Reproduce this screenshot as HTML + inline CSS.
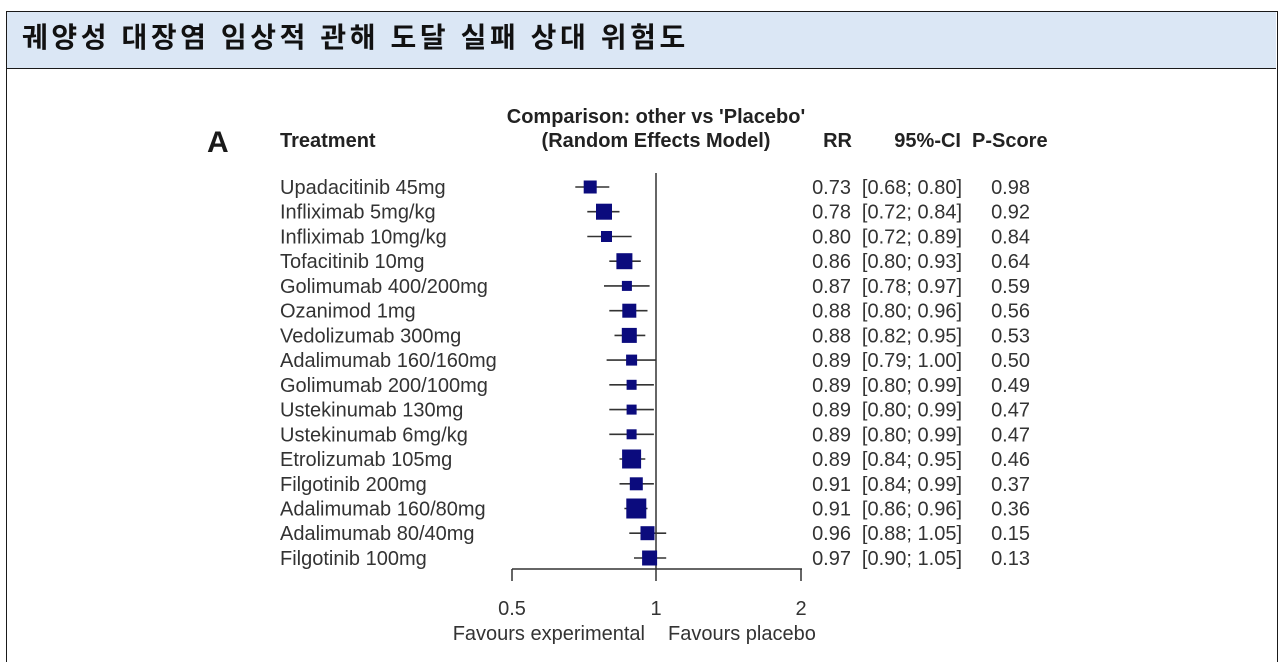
<!DOCTYPE html>
<html>
<head>
<meta charset="utf-8">
<style>
  html, body { margin:0; padding:0; background:#ffffff; width:1280px; height:662px; overflow:hidden; }
  body { position:relative; }
  .box { position:absolute; left:6px; top:11px; width:1272px; height:651px; border:1px solid #1a1a1a; border-bottom:none; box-sizing:border-box; }
  .hdr { position:absolute; left:7px; top:12px; width:1269px; height:56px; background:#dbe7f5; border-bottom:1px solid #1a1a1a; }
  .title { position:absolute; left:22px; top:20px; font-family:"Liberation Sans","Noto Sans CJK KR","NanumGothic",sans-serif; font-weight:bold; font-size:28px; letter-spacing:3.6px; color:#111; line-height:36px; white-space:nowrap; }
  svg { position:absolute; left:0; top:0; }
  svg text { font-family:"Liberation Sans", Arial, sans-serif; }
</style>
</head>
<body>
<div class="box"></div>
<div class="hdr"></div>
<div class="title">궤양성 대장염 임상적 관해 도달 실패 상대 위험도</div>
<svg width="1280" height="662" viewBox="0 0 1280 662" xmlns="http://www.w3.org/2000/svg">
  <!-- headers -->
  <text x="207" y="152" font-size="30" font-weight="bold" fill="#1a1a1a">A</text>
  <text x="280" y="147" font-size="20" font-weight="bold" fill="#222">Treatment</text>
  <text x="656" y="123" font-size="20" font-weight="bold" fill="#222" text-anchor="middle">Comparison: other vs 'Placebo'</text>
  <text x="656" y="147" font-size="20" font-weight="bold" fill="#222" text-anchor="middle">(Random Effects Model)</text>
  <text x="852" y="147" font-size="20" font-weight="bold" fill="#222" text-anchor="end">RR</text>
  <text x="961" y="147" font-size="20" font-weight="bold" fill="#222" text-anchor="end">95%-CI</text>
  <text x="972" y="147" font-size="20" font-weight="bold" fill="#222">P-Score</text>

  <!-- null line -->
  <line x1="656" y1="173" x2="656" y2="581" stroke="#333" stroke-width="1.5"/>
  <!-- axis -->
  <line x1="512" y1="569" x2="802" y2="569" stroke="#333" stroke-width="1.5"/>
  <line x1="512" y1="569" x2="512" y2="581" stroke="#333" stroke-width="1.5"/>
  <line x1="801" y1="569" x2="801" y2="581" stroke="#333" stroke-width="1.5"/>
  <text x="512" y="615" font-size="20" fill="#333" text-anchor="middle">0.5</text>
  <text x="656" y="615" font-size="20" fill="#333" text-anchor="middle">1</text>
  <text x="801" y="615" font-size="20" fill="#333" text-anchor="middle">2</text>
  <text x="645" y="640" font-size="20" fill="#333" text-anchor="end">Favours experimental</text>
  <text x="668" y="640" font-size="20" fill="#333">Favours placebo</text>

  <g stroke="#333" stroke-width="1.6">
    <line x1="575.3" y1="187.0" x2="609.3" y2="187.0"/>
    <line x1="587.3" y1="211.7" x2="619.5" y2="211.7"/>
    <line x1="587.3" y1="236.5" x2="631.6" y2="236.5"/>
    <line x1="609.3" y1="261.2" x2="640.8" y2="261.2"/>
    <line x1="604.0" y1="285.9" x2="649.6" y2="285.9"/>
    <line x1="609.3" y1="310.7" x2="647.5" y2="310.7"/>
    <line x1="614.5" y1="335.4" x2="645.3" y2="335.4"/>
    <line x1="606.6" y1="360.1" x2="656.0" y2="360.1"/>
    <line x1="609.3" y1="384.8" x2="653.9" y2="384.8"/>
    <line x1="609.3" y1="409.6" x2="653.9" y2="409.6"/>
    <line x1="609.3" y1="434.3" x2="653.9" y2="434.3"/>
    <line x1="619.5" y1="459.0" x2="645.3" y2="459.0"/>
    <line x1="619.5" y1="483.8" x2="653.9" y2="483.8"/>
    <line x1="624.4" y1="508.5" x2="647.5" y2="508.5"/>
    <line x1="629.3" y1="533.2" x2="666.2" y2="533.2"/>
    <line x1="634.0" y1="558.0" x2="666.2" y2="558.0"/>
  </g>
  <g fill="#0b0b7d">
    <rect x="583.7" y="180.5" width="13" height="13"/>
    <rect x="596.0" y="203.7" width="16" height="16"/>
    <rect x="601.0" y="231.0" width="11" height="11"/>
    <rect x="616.4" y="253.2" width="16" height="16"/>
    <rect x="621.9" y="280.9" width="10" height="10"/>
    <rect x="622.3" y="303.7" width="14" height="14"/>
    <rect x="621.8" y="327.9" width="15" height="15"/>
    <rect x="626.1" y="354.6" width="11" height="11"/>
    <rect x="626.6" y="379.8" width="10" height="10"/>
    <rect x="626.6" y="404.6" width="10" height="10"/>
    <rect x="626.6" y="429.3" width="10" height="10"/>
    <rect x="622.1" y="449.5" width="19" height="19"/>
    <rect x="629.8" y="477.3" width="13" height="13"/>
    <rect x="626.3" y="498.5" width="20" height="20"/>
    <rect x="640.5" y="526.2" width="14" height="14"/>
    <rect x="642.1" y="550.5" width="15" height="15"/>
  </g>

  <g font-size="20" fill="#333">
    <text x="280" y="194.0">Upadacitinib 45mg</text>
    <text x="280" y="218.7">Infliximab 5mg/kg</text>
    <text x="280" y="243.5">Infliximab 10mg/kg</text>
    <text x="280" y="268.2">Tofacitinib 10mg</text>
    <text x="280" y="292.9">Golimumab 400/200mg</text>
    <text x="280" y="317.7">Ozanimod 1mg</text>
    <text x="280" y="342.4">Vedolizumab 300mg</text>
    <text x="280" y="367.1">Adalimumab 160/160mg</text>
    <text x="280" y="391.8">Golimumab 200/100mg</text>
    <text x="280" y="416.6">Ustekinumab 130mg</text>
    <text x="280" y="441.3">Ustekinumab 6mg/kg</text>
    <text x="280" y="466.0">Etrolizumab 105mg</text>
    <text x="280" y="490.8">Filgotinib 200mg</text>
    <text x="280" y="515.5">Adalimumab 160/80mg</text>
    <text x="280" y="540.2">Adalimumab 80/40mg</text>
    <text x="280" y="565.0">Filgotinib 100mg</text>
  </g>
  <g font-size="20" fill="#333" text-anchor="end">
    <text x="851" y="194.0">0.73</text>
    <text x="851" y="218.7">0.78</text>
    <text x="851" y="243.5">0.80</text>
    <text x="851" y="268.2">0.86</text>
    <text x="851" y="292.9">0.87</text>
    <text x="851" y="317.7">0.88</text>
    <text x="851" y="342.4">0.88</text>
    <text x="851" y="367.1">0.89</text>
    <text x="851" y="391.8">0.89</text>
    <text x="851" y="416.6">0.89</text>
    <text x="851" y="441.3">0.89</text>
    <text x="851" y="466.0">0.89</text>
    <text x="851" y="490.8">0.91</text>
    <text x="851" y="515.5">0.91</text>
    <text x="851" y="540.2">0.96</text>
    <text x="851" y="565.0">0.97</text>
  </g>
  <g font-size="20" fill="#333" text-anchor="end">
    <text x="962" y="194.0">[0.68; 0.80]</text>
    <text x="962" y="218.7">[0.72; 0.84]</text>
    <text x="962" y="243.5">[0.72; 0.89]</text>
    <text x="962" y="268.2">[0.80; 0.93]</text>
    <text x="962" y="292.9">[0.78; 0.97]</text>
    <text x="962" y="317.7">[0.80; 0.96]</text>
    <text x="962" y="342.4">[0.82; 0.95]</text>
    <text x="962" y="367.1">[0.79; 1.00]</text>
    <text x="962" y="391.8">[0.80; 0.99]</text>
    <text x="962" y="416.6">[0.80; 0.99]</text>
    <text x="962" y="441.3">[0.80; 0.99]</text>
    <text x="962" y="466.0">[0.84; 0.95]</text>
    <text x="962" y="490.8">[0.84; 0.99]</text>
    <text x="962" y="515.5">[0.86; 0.96]</text>
    <text x="962" y="540.2">[0.88; 1.05]</text>
    <text x="962" y="565.0">[0.90; 1.05]</text>
  </g>
  <g font-size="20" fill="#333" text-anchor="end">
    <text x="1030" y="194.0">0.98</text>
    <text x="1030" y="218.7">0.92</text>
    <text x="1030" y="243.5">0.84</text>
    <text x="1030" y="268.2">0.64</text>
    <text x="1030" y="292.9">0.59</text>
    <text x="1030" y="317.7">0.56</text>
    <text x="1030" y="342.4">0.53</text>
    <text x="1030" y="367.1">0.50</text>
    <text x="1030" y="391.8">0.49</text>
    <text x="1030" y="416.6">0.47</text>
    <text x="1030" y="441.3">0.47</text>
    <text x="1030" y="466.0">0.46</text>
    <text x="1030" y="490.8">0.37</text>
    <text x="1030" y="515.5">0.36</text>
    <text x="1030" y="540.2">0.15</text>
    <text x="1030" y="565.0">0.13</text>
  </g>
</svg>
</body>
</html>
